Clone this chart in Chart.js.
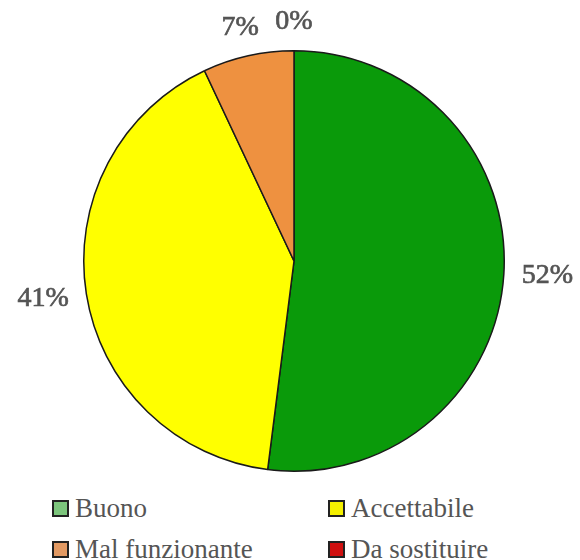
<!DOCTYPE html>
<html>
<head>
<meta charset="utf-8">
<script src="https://cdn.jsdelivr.net/npm/chart.js@4.4.1/dist/chart.umd.min.js"></script>
<style>
  html, body { margin: 0; padding: 0; background: #fff; }
  #wrap { position: relative; width: 580px; height: 560px; }
  #pie { position: absolute; left: 0; top: 0; }
  .legend { position: absolute; left: 0; top: 490px; width: 580px; font-family: "Liberation Serif", "Times New Roman", "DejaVu Serif", serif; font-size: 27px; color: #555; }
  .item { position: absolute; display: flex; align-items: center; line-height: 30px; }
  .box { width: 13px; height: 13px; border: 2px solid #222; margin-right: 6px; }
</style>
</head>
<body>
<div id="wrap">
  <canvas id="pie" width="580" height="490"></canvas>
  <div class="legend" id="legend"></div>
</div>
<script>
// Chart data
const categories = ['Buono', 'Accettabile', 'Mal funzionante', 'Da sostituire'];
const percentages = [52, 41, 7, 0];
const sliceColors = ['#0a9a0a', '#ffff00', '#ee9140', '#d01010'];
const legendColors = ['#7cc57c', '#f4f000', '#e39a63', '#d01010'];

const labelFont = '28px "Liberation Serif", "Times New Roman", "DejaVu Serif", serif';

// Labels drawn just outside each slice, like the original
const outsideLabels = {
    id: 'outsideLabels',
    afterDatasetsDraw(chart) {
        const ctx = chart.ctx;
        const meta = chart.getDatasetMeta(0);
        ctx.save();
        ctx.font = labelFont;
        ctx.fillStyle = '#555';
        ctx.strokeStyle = '#555';
        ctx.lineWidth = 0.7;
        ctx.textAlign = 'center';
        ctx.textBaseline = 'middle';
        meta.data.forEach((arc, i) => {
            const mid = (arc.startAngle + arc.endAngle) / 2;
            const text = percentages[i] + '%';
            const w = ctx.measureText(text).width;
            const h = 22;
            const r = arc.outerRadius + 18;
            const x = arc.x + Math.cos(mid) * (r + w / 2);
            const y = arc.y + Math.sin(mid) * (r + h / 2);
            ctx.fillText(text, x, y);
            ctx.strokeText(text, x, y);
        });
        ctx.restore();
    }
};

const pieCtx = document.getElementById('pie').getContext('2d');
const pieChart = new Chart(pieCtx, {
    type: 'pie',
    data: {
        labels: categories,
        datasets: [{
            data: percentages,
            backgroundColor: sliceColors,
            borderColor: '#1a1a1a',
            borderWidth: 1.5
        }]
    },
    options: {
        responsive: false,
        animation: false,
        layout: { padding: { top: 50, bottom: 18, left: 83, right: 75 } },
        plugins: {
            legend: { display: false },
            tooltip: { enabled: false }
        }
    },
    plugins: [outsideLabels]
});

// Build the two-column legend
const legendEl = document.getElementById('legend');
const legendSpots = [[52, 3], [328, 3], [52, 44], [328, 44]];
categories.forEach((name, i) => {
    const item = document.createElement('div');
    item.className = 'item';
    item.style.left = legendSpots[i][0] + 'px';
    item.style.top = legendSpots[i][1] + 'px';
    item.innerHTML = `<span class="box" style="background:${legendColors[i]}"></span><span>${name}</span>`;
    legendEl.appendChild(item);
});
</script>
</body>
</html>
